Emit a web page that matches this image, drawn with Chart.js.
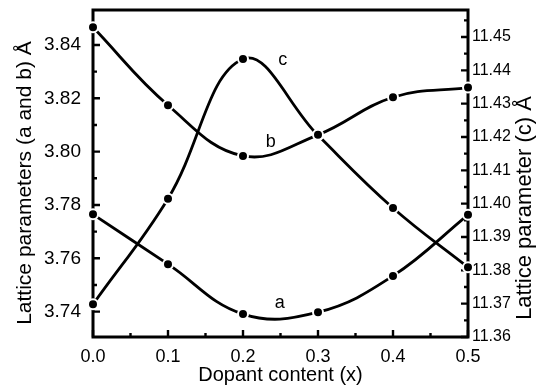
<!DOCTYPE html>
<html lang="en">
<head>
  <meta charset="UTF-8" />
  <title>Lattice parameters vs dopant content</title>
  <script src="https://cdn.jsdelivr.net/npm/chart.js"></script>
  <style>
    html, body {
      margin: 0;
      padding: 0;
      background: #fff;
    }
    canvas {
      display: block;
    }
  </style>
</head>
<body>
  <canvas id="graficoRed" width="538" height="387"></canvas>

  <script>
    // values
    const dopant = [0.0, 0.1, 0.2, 0.3, 0.4, 0.5];
    const latticeA = [3.7765, 3.7578, 3.7391, 3.7398, 3.7534, 3.7763];
    const latticeB = [3.8466, 3.8174, 3.7984, 3.8063, 3.8204, 3.8240];
    const latticeC = [11.3698, 11.4015, 11.4434, 11.4205, 11.3987, 11.3809];

    const xTicks = [0.0, 0.1, 0.2, 0.3, 0.4, 0.5];
    const leftTicks = [3.74, 3.76, 3.78, 3.80, 3.82, 3.84];
    const rightTicks = [11.36, 11.37, 11.38, 11.39, 11.40, 11.41, 11.42, 11.43, 11.44, 11.45];

    const FONT = '"Liberation Sans", Arial, sans-serif';
    Chart.defaults.font.family = FONT;
    Chart.defaults.color = '#000';

    const toPoints = (ys) => dopant.map((x, i) => ({ x: x, y: ys[i] }));
    const setTicks = (list) => (scale) => { scale.ticks = list.map(v => ({ value: v })); };
    // fixed box sizes, no extra label padding around the plot
    const fixBox = (w, h) => (s) => {
      if (w) s.width = w;
      if (h) s.height = h;
      s.paddingTop = 0;
      s.paddingBottom = 0;
      s.paddingLeft = 0;
      s.paddingRight = 0;
    };

    // frame + inward tick marks (major and minor)
    const marco = {
      id: 'marco',
      beforeDatasetsDraw(chart) {
        const { ctx, chartArea: a, scales } = chart;
        ctx.save();
        ctx.strokeStyle = '#000';
        ctx.lineWidth = 3;
        ctx.strokeRect(a.left, a.top, a.right - a.left, a.bottom - a.top);

        ctx.lineWidth = 2.4;
        ctx.beginPath();
        const xs = scales.x;
        for (let i = 0; i <= 10; i++) {
          const px = xs.getPixelForValue(i * 0.05);
          const len = i % 2 === 0 ? 7 : 4;
          ctx.moveTo(px, a.bottom);
          ctx.lineTo(px, a.bottom - len);
        }
        const yl = scales.y;
        for (let i = 0; i <= 10; i++) {
          const v = 3.74 + i * 0.01;
          const py = yl.getPixelForValue(v);
          const len = i % 2 === 0 ? 7 : 4;
          ctx.moveTo(a.left, py);
          ctx.lineTo(a.left + len, py);
        }
        const yr = scales.y2;
        for (let i = 0; i <= 19; i++) {
          const v = 11.36 + i * 0.005;
          const py = yr.getPixelForValue(v);
          const len = i % 2 === 0 ? 7 : 4;
          ctx.moveTo(a.right, py);
          ctx.lineTo(a.right - len, py);
        }
        ctx.stroke();
        ctx.restore();
      }
    };

    // axis titles and curve letters
    const textos = {
      id: 'textos',
      afterDatasetsDraw(chart) {
        const { ctx, chartArea: a, scales } = chart;
        ctx.save();
        ctx.fillStyle = '#000';
        ctx.textAlign = 'center';
        ctx.textBaseline = 'middle';

        ctx.font = '18px ' + FONT;
        ctx.fillText('a', scales.x.getPixelForValue(0.249), scales.y.getPixelForValue(3.7431));
        ctx.fillText('b', scales.x.getPixelForValue(0.237), scales.y.getPixelForValue(3.8037));
        ctx.fillText('c', scales.x.getPixelForValue(0.253), scales.y2.getPixelForValue(11.4431));

        ctx.font = '20px ' + FONT;
        ctx.fillText('Dopant content (x)', (a.left + a.right) / 2, 375);

        ctx.font = '21px ' + FONT;
        ctx.translate(25.5, 183);
        ctx.rotate(-Math.PI / 2);
        ctx.fillText('Lattice parameters (a and b) Å', 0, 0);
        ctx.restore();

        ctx.save();
        ctx.fillStyle = '#000';
        ctx.textAlign = 'center';
        ctx.textBaseline = 'middle';
        ctx.font = '22px ' + FONT;
        ctx.translate(525, 208);
        ctx.rotate(-Math.PI / 2);
        ctx.fillText('Lattice parameter (c) Å', 0, 0);
        ctx.restore();
      }
    };

    const serie = (label, ys, axis) => ({
      label: label,
      data: toPoints(ys),
      yAxisID: axis,
      borderColor: '#000',
      borderWidth: 2.8,
      tension: 0.4,
      pointRadius: 5,
      pointBackgroundColor: '#000',
      pointBorderColor: '#fff',
      pointBorderWidth: 2,
      clip: false
    });

    new Chart(document.getElementById('graficoRed'), {
      type: 'line',
      data: {
        datasets: [
          serie('a', latticeA, 'y'),
          serie('b', latticeB, 'y'),
          serie('c', latticeC, 'y2')
        ]
      },
      options: {
        responsive: false,
        animation: false,
        layout: { padding: { top: 10, left: 0, right: 0, bottom: 0 } },
        plugins: {
          legend: { display: false },
          tooltip: { enabled: false }
        },
        scales: {
          x: {
            type: 'linear',
            position: 'bottom',
            min: 0,
            max: 0.5,
            grid: { display: false, drawTicks: false },
            border: { display: false },
            afterBuildTicks: setTicks(xTicks),
            afterFit: fixBox(0, 50),
            ticks: {
              autoSkip: false,
              maxRotation: 0,
              padding: 9,
              font: { size: 18 },
              callback: (v) => Number(v).toFixed(1)
            }
          },
          y: {
            type: 'linear',
            position: 'left',
            min: 3.7305,
            max: 3.8531,
            grid: { display: false, drawTicks: false },
            border: { display: false },
            afterBuildTicks: setTicks(leftTicks),
            afterFit: fixBox(93, 0),
            ticks: {
              padding: 12,
              font: { size: 19 },
              callback: (v) => Number(v).toFixed(2)
            }
          },
          y2: {
            type: 'linear',
            position: 'right',
            min: 11.36,
            max: 11.4581,
            grid: { display: false, drawTicks: false },
            border: { display: false },
            afterBuildTicks: setTicks(rightTicks),
            afterFit: fixBox(70, 0),
            ticks: {
              padding: 4,
              font: { size: 16 },
              callback: (v) => Number(v).toFixed(2)
            }
          }
        }
      },
      plugins: [marco, textos]
    });
  </script>
</body>
</html>
